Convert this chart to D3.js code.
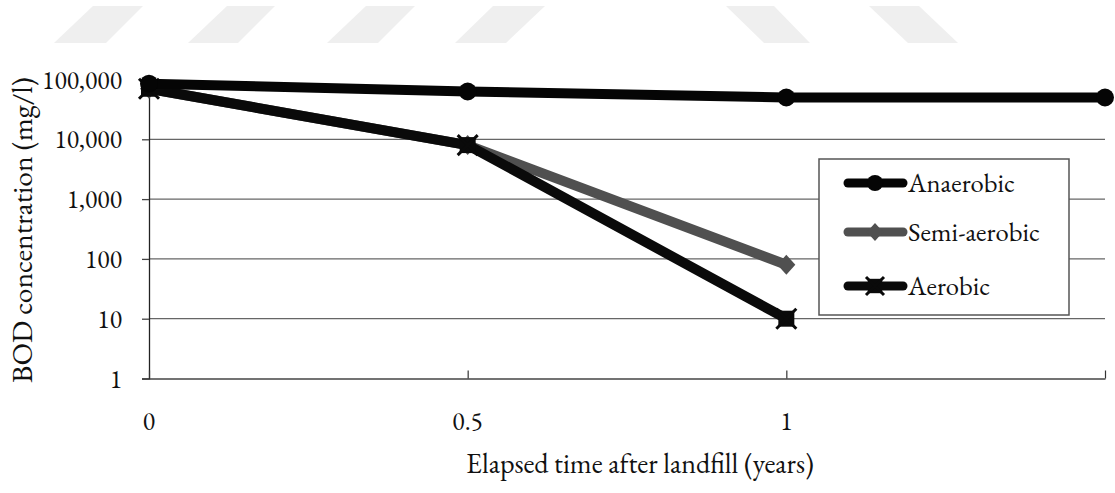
<!DOCTYPE html>
<html><head><meta charset="utf-8">
<script src="https://cdn.jsdelivr.net/npm/d3@7"></script>
<style>body{margin:0;background:#fff}svg{display:block}</style>
</head><body>
<svg id="c" width="1115" height="493"></svg>
<script>
const times = [0, 0.5, 1, 1.5];
const anaerobic = [85000, 63000, 50000, 50000];
const semiAerobic = [70000, 8000, 80];
const aerobic = [70000, 8000, 10];
const yTicks = [1, 10, 100, 1000, 10000, 100000];
const xTicks = [0, 0.5, 1];
const seriesNames = ["Anaerobic", "Semi-aerobic", "Aerobic"];
// watermark decoration (top strip)
const watermark = [[93,143,54,106],[227,275,188,238],[366,415,327,378],[493,545,455,506],[726,774,764,810],[869,919,908,958]];

(function () {
const FONT = '"EB Garamond","Liberation Serif",serif';
const svg = d3.select("#c");
const x = d3.scaleLinear().domain([0, 1.5]).range([149, 1105]);
const y = d3.scaleLog().domain([1, 100000]).range([378.5, 79.5]);

function fit(sel, target) {
  const fs = parseFloat(sel.attr("font-size"));
  const w = sel.node().getComputedTextLength();
  if (w > 0) sel.attr("font-size", fs * target / w);
  return sel;
}

svg.append("g").selectAll("path").data(watermark).join("path")
  .attr("d", d => `M${d[0]},6L${d[1]},6L${d[3]},43L${d[2]},43Z`).attr("fill", "#efefef");

// gridlines
svg.append("g").selectAll("line").data(yTicks.filter(v => v > 1 && v < 100000)).join("line")
  .attr("x1", x(0)).attr("x2", x(1.5)).attr("y1", d => y(d)).attr("y2", d => y(d))
  .attr("stroke", "#666").attr("stroke-width", 1.3);

// y axis
const fmt = d3.format(",");
const ya = svg.append("g").attr("transform", `translate(${x(0)},0)`)
  .call(d3.axisLeft(y).tickValues(yTicks).tickFormat(fmt).tickSize(7).tickPadding(20));
ya.select(".domain").attr("stroke", "#222").attr("stroke-width", 1.3);
ya.selectAll(".tick line").attr("stroke", "#444").attr("stroke-width", 1.3);
const yt = ya.selectAll("text").style("font-family", FONT).attr("font-size", 26).attr("fill", "#111").attr("dy", "0.33em");
const topLabel = ya.selectAll("text").filter(d => d === 100000);
fit(topLabel, 80);
const tickFs = topLabel.attr("font-size");
yt.attr("font-size", tickFs);

// x axis
const xa = svg.append("g").attr("transform", `translate(0,${y(1)})`)
  .call(d3.axisTop(x).tickValues([0, 0.5, 1, 1.5]).tickFormat("").tickSize(8).tickSizeOuter(0));
xa.select(".domain").attr("stroke", "#444").attr("stroke-width", 1.6);
xa.selectAll(".tick line").attr("stroke", "#333").attr("stroke-width", 1.2);
svg.append("g").selectAll("text").data(xTicks).join("text")
  .style("font-family", FONT).attr("fill", "#111")
  .attr("x", d => x(d)).attr("y", 430).attr("text-anchor", "middle").attr("font-size", tickFs)
  .text(d => d);

fit(svg.append("text").attr("x", 640).attr("y", 473).attr("text-anchor", "middle").attr("font-size", 26)
  .style("font-family", FONT).attr("fill", "#111").text("Elapsed time after landfill (years)"), 348);
fit(svg.append("text").attr("transform", "translate(32,230) rotate(-90)").attr("text-anchor", "middle")
  .attr("font-size", 26).style("font-family", FONT).attr("fill", "#111").text("BOD concentration (mg/l)"), 306);

const line = d3.line().x(d => x(d[0])).y(d => y(d[1]));
const semiColor = "#505050";
const dataSets = [
  {vals: anaerobic, color: "#050505", marker: "circle"},
  {vals: semiAerobic, color: semiColor, marker: "diamond"},
  {vals: aerobic, color: "#0a0a0a", marker: "square"}
];
function drawMarker(g, type, cx, cy, color, s) {
  s = s || 1;
  if (type === "circle") g.append("circle").attr("cx", cx).attr("cy", cy).attr("r", 9 * s).attr("fill", color);
  else if (type === "diamond") g.append("path").attr("d", `M${cx},${cy-10*s}L${cx+9*s},${cy}L${cx},${cy+10*s}L${cx-9*s},${cy}Z`).attr("fill", color);
  else {
    g.append("rect").attr("x", cx-8*s).attr("y", cy-8*s).attr("width", 16*s).attr("height", 16*s).attr("fill", color);
    g.append("path").attr("d", `M${cx-10*s},${cy-10*s}L${cx+10*s},${cy+10*s}M${cx+10*s},${cy-10*s}L${cx-10*s},${cy+10*s}`).attr("stroke", color).attr("stroke-width", 3);
  }
}
[dataSets[1], dataSets[2], dataSets[0]].forEach(s => {
  const pts = s.vals.map((v, i) => [times[i], v]);
  svg.append("path").attr("d", line(pts)).attr("fill", "none").attr("stroke", s.color)
    .attr("stroke-width", 10).attr("stroke-linejoin", "round");
  const g = svg.append("g");
  pts.forEach(p => drawMarker(g, s.marker, x(p[0]), y(p[1]), s.color));
});

// legend
const lg = svg.append("g");
lg.append("rect").attr("x", 819).attr("y", 159).attr("width", 250).attr("height", 156)
  .attr("fill", "#fff").attr("stroke", "#555").attr("stroke-width", 1.5);
const rowsY = [183, 232, 286];
let legFs = null;
seriesNames.forEach((n, i) => {
  const s = dataSets[i];
  lg.append("line").attr("x1", 848).attr("x2", 903).attr("y1", rowsY[i]).attr("y2", rowsY[i])
    .attr("stroke", s.color).attr("stroke-width", 9).attr("stroke-linecap", "round");
  drawMarker(lg, s.marker, 875, rowsY[i], s.color, 0.9);
  const t = lg.append("text").attr("x", 908).attr("y", rowsY[i] + 9).attr("font-size", legFs || 28)
    .style("font-family", FONT).attr("fill", "#111").text(n);
  if (i === 0) { fit(t, 107); legFs = t.attr("font-size"); }
});
})();
</script>
</body></html>
